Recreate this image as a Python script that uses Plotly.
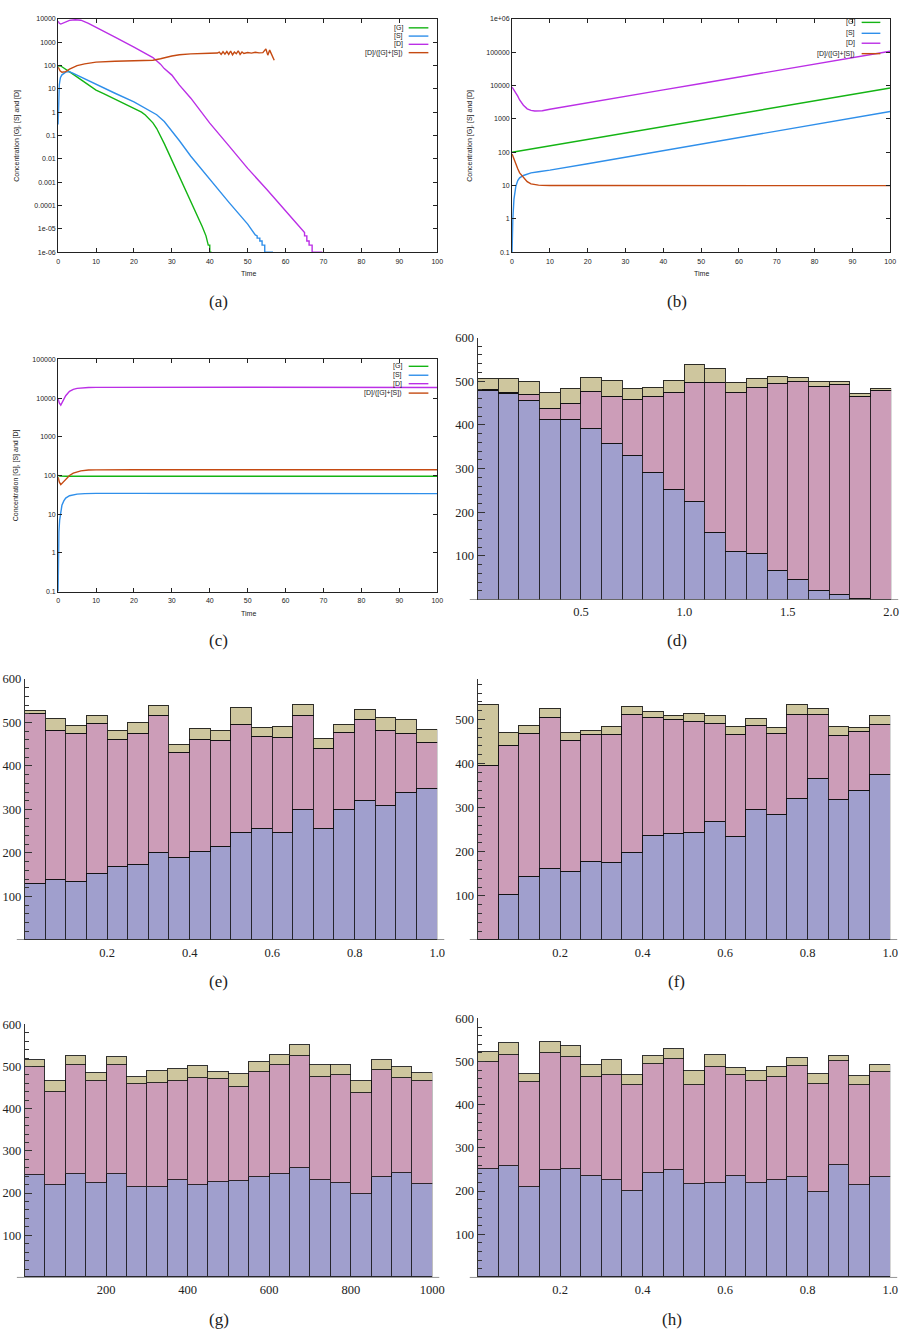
import numpy as np
import plotly.graph_objects as go

W, H = 915, 1343

# ---------------- panel (a) : time series (log scale) ----------------
a_G_t = [0, 0.5, 1, 2, 4, 6, 8, 10, 12, 14, 16, 18, 20, 22, 23, 24, 25, 26, 27, 28, 29, 30, 32, 34, 36, 38, 39, 39.5, 39.6, 40.0, 40.0, 40.3, 40.3]
a_G = [93, 100, 89, 71, 42, 25, 15, 8.9, 6.2, 4.3, 3.0, 2.1, 1.5, 1.0, 0.76, 0.52, 0.35, 0.2, 0.1, 0.045, 0.02, 0.0089, 0.0016, 3.2e-4, 6.3e-5, 1.26e-5, 5e-6, 2.5e-6, 2e-6, 2e-6, 1e-6, 1e-6, 1e-7]
a_S_t = [0, 0.1, 0.3, 0.6, 1, 2, 3, 4, 6, 8, 10, 15, 20, 24, 26, 28, 30, 32, 35, 40, 45, 50, 52, 52.5, 52.5, 53.2, 53.2, 53.8, 53.8, 54.5, 54.5, 56.5, 56.5]
a_S = [0.3, 5, 15, 30, 40, 52, 55, 46, 32, 23, 16, 6.5, 2.8, 1.26, 0.78, 0.4, 0.16, 0.06, 0.013, 0.0013, 1.4e-4, 1.6e-5, 5.5e-6, 5e-6, 4e-6, 4e-6, 3e-6, 3e-6, 2e-6, 2e-6, 1e-6, 1e-6, 1e-7]
a_D_t = [0, 0.3, 0.7, 1.5, 3, 4.5, 6, 8, 10, 15, 20, 25, 27, 28, 30, 32, 35, 40, 45, 50, 55, 60, 63, 64.5, 65, 65, 65.6, 65.6, 66.2, 66.2, 67, 67, 69.5, 69.5]
a_D = [8000, 6500, 6000, 7000, 8700, 9200, 8800, 6500, 4500, 1660, 620, 220, 115, 74, 39, 14.5, 4, 0.34, 0.037, 0.0039, 5e-4, 6e-5, 1.8e-5, 9e-6, 7e-6, 5e-6, 5e-6, 3e-6, 3e-6, 2e-6, 2e-6, 1e-6, 1e-6, 1e-7]
a_R_t = [0, 0.5, 1, 2, 3, 5, 7, 10, 15, 20, 25, 27, 28, 30, 32, 35, 40, 42, 42.5, 43, 43.5, 44, 44.5, 45, 45.5, 46, 46.5, 47, 47.5, 48, 48.5, 49, 50, 51, 52, 53, 54, 54.8, 55.3, 55.8, 57]
a_R = [86, 60, 52, 55, 70, 100, 118, 140, 152, 158, 170, 195, 215, 257, 290, 316, 335, 345, 380, 300, 390, 310, 400, 300, 420, 290, 380, 320, 430, 300, 380, 330, 360, 340, 370, 350, 360, 520, 280, 460, 170]

# ---------------- panel (b) ----------------
b_G_t = [0, 10, 20, 30, 40, 50, 60, 70, 80, 90, 100]
b_G = [100, 156, 243, 378, 590, 920, 1430, 2230, 3480, 5420, 8450]
b_S_t = [0, 0.1, 0.2, 0.5, 1, 1.5, 2, 3, 4, 5, 7, 10, 20, 30, 40, 50, 60, 70, 80, 90, 100]
b_S = [0.1, 0.4, 1.0, 3.9, 9.5, 14, 17, 20, 22, 24, 26, 29, 45, 71, 112, 176, 276, 433, 680, 1070, 1670]
b_D_t = [0, 0.5, 1, 1.5, 2, 3, 4, 5, 6, 7, 8, 10, 15, 20, 30, 40, 50, 60, 70, 80, 90, 100]
b_D = [9000, 7500, 6100, 4800, 3700, 2570, 2000, 1800, 1720, 1720, 1760, 1950, 2420, 3040, 4750, 7400, 11560, 18000, 28100, 43900, 68500, 107000]
b_R_t = [0, 0.5, 1, 1.5, 2, 3, 4, 5, 6, 7, 8, 10, 20, 40, 60, 80, 100]
b_R = [88, 60, 43, 32, 24, 17, 13, 11.2, 10.6, 10.3, 10.1, 10, 10, 10, 10, 10, 9.9]

# ---------------- panel (c) ----------------
c_G_t = [0, 0.5, 2, 10, 50, 100]
c_G = [100, 97, 96, 96, 96, 96]
c_S_t = [0, 0.1, 0.2, 0.4, 0.7, 1, 1.5, 2, 3, 4, 5, 7, 10, 20, 50, 100]
c_S = [0.1, 1.5, 3.5, 7, 12, 17, 22, 26, 30, 32, 33, 34, 34.5, 34.5, 34.5, 34]
c_D_t = [0, 0.3, 0.7, 1.2, 2, 3, 4, 5, 6, 8, 10, 20, 50, 100]
c_D = [9500, 7500, 6600, 8000, 11500, 14900, 16800, 17800, 18300, 18700, 18900, 19000, 19000, 18800]
c_R_t = [0, 0.3, 0.7, 1.2, 2, 3, 4, 5, 6, 8, 10, 20, 50, 100]
c_R = [90, 68, 58, 65, 80, 100, 115, 126, 132, 138, 140, 141, 141, 141]

SERIES_NAMES = ["[G]", "[S]", "[D]", "[D]/([G]+[S])"]
SERIES_COLORS = ["#14b414", "#2f8fea", "#bb2fe6", "#c54a12"]

# ---------------- stacked histograms (d)-(h): counts per bin ----------------
d_blue = [479, 471, 456, 412, 412, 391, 358, 330, 290, 252, 225, 153, 111, 105, 66, 45, 20, 11, 3, 0]
d_pink = [2, 4, 13, 25, 38, 86, 108, 128, 174, 221, 271, 345, 362, 381, 428, 455, 468, 481, 461, 479]
d_tan = [26, 30, 30, 36, 34, 31, 36, 25, 22, 29, 42, 30, 25, 19, 17, 8, 12, 8, 7, 4]

e_blue = [129, 139, 134, 152, 167, 172, 201, 188, 203, 214, 247, 256, 245, 300, 256, 300, 320, 308, 339, 347]
e_pink = [390, 342, 339, 345, 292, 301, 315, 243, 256, 244, 247, 211, 220, 216, 183, 177, 185, 173, 134, 107]
e_tan = [7, 26, 18, 19, 22, 26, 22, 17, 26, 22, 39, 21, 24, 24, 22, 18, 23, 30, 32, 28]

f_blue = [0, 102, 144, 162, 154, 177, 174, 197, 236, 241, 242, 267, 233, 296, 283, 320, 365, 317, 338, 374]
f_pink = [395, 338, 323, 342, 297, 288, 292, 314, 268, 259, 253, 222, 232, 190, 184, 190, 146, 145, 133, 113]
f_tan = [139, 29, 19, 19, 19, 10, 17, 18, 13, 9, 18, 19, 18, 15, 14, 22, 12, 22, 10, 22]

g_blue = [242, 218, 245, 223, 244, 213, 213, 230, 218, 226, 229, 237, 244, 258, 230, 223, 196, 238, 246, 220]
g_pink = [257, 221, 259, 242, 260, 245, 248, 235, 254, 244, 222, 249, 260, 265, 245, 256, 241, 254, 226, 245]
g_tan = [16, 25, 20, 20, 18, 16, 28, 28, 28, 16, 31, 24, 23, 28, 28, 24, 27, 23, 25, 20]

h_blue = [250, 257, 208, 247, 250, 235, 225, 199, 241, 247, 215, 218, 235, 218, 225, 231, 197, 259, 214, 231]
h_pink = [248, 258, 244, 273, 260, 229, 242, 245, 252, 257, 229, 268, 232, 236, 238, 258, 251, 241, 230, 244]
h_tan = [23, 27, 18, 24, 25, 26, 36, 25, 20, 25, 33, 29, 17, 23, 24, 18, 23, 13, 22, 17]

d_range = [0, 2.0]
e_range = [0, 1.0]
f_range = [0, 1.0]
g_range = [0, 1000]
h_range = [0, 1.0]
d_ticks = [0.5, 1.0, 1.5, 2.0]
unit_ticks = [0.2, 0.4, 0.6, 0.8, 1.0]
g_ticks = [200, 400, 600, 800, 1000]

HIST_COLORS = ["rgb(160,159,205)", "rgb(204,157,184)", "rgb(206,198,158)"]

CAPTIONS = ["(a)", "(b)", "(c)", "(d)", "(e)", "(f)", "(g)", "(h)"]


def dx(x0, x1):
    return [x0 / W, x1 / W]


def dy(top, bottom):
    return [1 - bottom / H, 1 - top / H]


def px(x):
    return x / W


def py(y):
    return 1 - y / H


fig = go.Figure()

# line panels
line_panels = [
    ("x", "y", [(a_G_t, a_G), (a_S_t, a_S), (a_D_t, a_D), (a_R_t, a_R)]),
    ("x2", "y2", [(b_G_t, b_G), (b_S_t, b_S), (b_D_t, b_D), (b_R_t, b_R)]),
    ("x3", "y3", [(c_G_t, c_G), (c_S_t, c_S), (c_D_t, c_D), (c_R_t, c_R)]),
]
for xa, ya, series in line_panels:
    for (t, v), name, col in zip(series, SERIES_NAMES, SERIES_COLORS):
        fig.add_trace(go.Scatter(x=t, y=v, mode="lines", name=name, xaxis=xa, yaxis=ya,
                                 line=dict(color=col, width=1.4), showlegend=False))

# histogram panels
hist_panels = [
    ("x4", "y4", d_range, [d_blue, d_pink, d_tan]),
    ("x5", "y5", e_range, [e_blue, e_pink, e_tan]),
    ("x6", "y6", f_range, [f_blue, f_pink, f_tan]),
    ("x7", "y7", g_range, [g_blue, g_pink, g_tan]),
    ("x8", "y8", h_range, [h_blue, h_pink, h_tan]),
]
for xa, ya, rng, stacks in hist_panels:
    n = len(stacks[0])
    bw = (rng[1] - rng[0]) / n
    centers = rng[0] + bw * (np.arange(n) + 0.5)
    for vals, col in zip(stacks, HIST_COLORS):
        fig.add_trace(go.Bar(x=centers, y=vals, width=bw, xaxis=xa, yaxis=ya,
                             marker=dict(color=col, line=dict(color="rgba(15,15,15,0.85)", width=1)),
                             showlegend=False))

GP_FONT = dict(family="Liberation Sans", size=7, color="#222")
MM_FONT = dict(family="Liberation Serif", size=12.5, color="#222")


def gp_x(dom, anchor):
    return dict(domain=dom, anchor=anchor, range=[0, 100], tickvals=list(range(0, 101, 10)),
                ticks="inside", ticklen=4, tickcolor="#222", mirror="ticks", showline=True,
                linecolor="#222", linewidth=1, showgrid=False, zeroline=False, tickfont=GP_FONT,
                ticklabelstandoff=2)


def gp_y(dom, anchor, lo, hi, texts):
    vals = [10.0 ** k for k in range(lo, hi + 1)]
    return dict(domain=dom, anchor=anchor, type="log", range=[lo, hi], tickvals=vals, ticktext=texts,
                ticks="inside", ticklen=4, tickcolor="#222", mirror="ticks", showline=True,
                linecolor="#222", linewidth=1, showgrid=False, zeroline=False, tickfont=GP_FONT)


def mm_x(dom, anchor, rng, vals, texts):
    return dict(domain=dom, anchor=anchor, range=rng, tickvals=vals, ticktext=texts, ticks="",
                showline=False, showgrid=False, zeroline=False, tickfont=MM_FONT, ticklabelstandoff=3)


def mm_y(dom, anchor, rng):
    return dict(domain=dom, anchor=anchor, range=rng, tickvals=[100, 200, 300, 400, 500, 600],
                ticks="inside", ticklen=7, tickcolor="#333", showline=True, linecolor="#333",
                linewidth=1, showgrid=False, zeroline=False, tickfont=MM_FONT,
                minor=dict(ticks="inside", ticklen=4, dtick=20, tick0=0, tickcolor="#333"))


a_texts = ["1e-06", "1e-05", "0.0001", "0.001", "0.01", "0.1", "1", "10", "100", "1000", "10000"]
b_texts = ["0.1", "1", "10", "100", "1000", "10000", "100000", "1e+06"]
c_texts = ["0.1", "1", "10", "100", "1000", "10000", "100000"]

layout = dict(
    width=W, height=H, margin=dict(l=0, r=0, t=0, b=0),
    paper_bgcolor="white", plot_bgcolor="rgba(0,0,0,0)",
    barmode="stack", bargap=0, showlegend=False,
    xaxis=gp_x(dx(57, 442), "y"), yaxis=gp_y(dy(12, 247), "x", -6, 4, a_texts),
    xaxis2=gp_x(dx(518, 902), "y2"), yaxis2=gp_y(dy(12, 247), "x2", -1, 6, b_texts),
    xaxis3=gp_x(dx(57, 442), "y3"), yaxis3=gp_y(dy(355, 589), "x3", -1, 5, c_texts),
    xaxis4=mm_x(dx(483, 903), "y4", d_range, d_ticks, ["0.5", "1.0", "1.5", "2.0"]),
    yaxis4=mm_y(dy(333, 597), "x4", [0, 600]),
    xaxis5=mm_x(dx(23, 442), "y5", e_range, unit_ticks, ["0.2", "0.4", "0.6", "0.8", "1.0"]),
    yaxis5=mm_y(dy(677, 940), "x5", [0, 600]),
    xaxis6=mm_x(dx(483, 902), "y6", f_range, unit_ticks, ["0.2", "0.4", "0.6", "0.8", "1.0"]),
    yaxis6=mm_y(dy(677, 940), "x6", [0, 592]),
    xaxis7=mm_x(dx(23, 437), "y7", g_range, g_ticks, ["200", "400", "600", "800", "1000"]),
    yaxis7=mm_y(dy(1025, 1280), "x7", [0, 600]),
    xaxis8=mm_x(dx(483, 902), "y8", h_range, unit_ticks, ["0.2", "0.4", "0.6", "0.8", "1.0"]),
    yaxis8=mm_y(dy(1019, 1280), "x8", [0, 600]),
)
fig.update_layout(**layout)

annotations = []
shapes = []

# gnuplot axis titles
for (xc, yc) in [(250, 268), (710, 268), (250, 611)]:
    annotations.append(dict(text="Time", x=px(xc), y=py(yc), xref="paper", yref="paper",
                            showarrow=False, font=GP_FONT, xanchor="center", yanchor="middle"))
for (xc, yc) in [(15, 130), (475, 130), (15, 472)]:
    annotations.append(dict(text="Concentration [G], [S] and [D]", x=px(xc), y=py(yc), xref="paper",
                            yref="paper", showarrow=False, font=GP_FONT, textangle=-90,
                            xanchor="center", yanchor="middle"))

# gnuplot keys (text right of which a line sample is drawn)
keys = [
    (409, 413, 433, [21, 29.3, 37.6, 46]),
    (868, 873, 892, [15.5, 26.5, 36.5, 47]),
    (408, 413, 433, [362, 371, 379.5, 389]),
]
for tx, l0, l1, rows in keys:
    for name, col, yr in zip(SERIES_NAMES, SERIES_COLORS, rows):
        annotations.append(dict(text=name, x=px(tx), y=py(yr), xref="paper", yref="paper",
                                showarrow=False, font=GP_FONT, xanchor="right", yanchor="middle"))
        shapes.append(dict(type="line", xref="paper", yref="paper", x0=px(l0), x1=px(l1),
                           y0=py(yr), y1=py(yr), line=dict(color=col, width=1.4)))

# Mathematica-style horizontal axes (extend slightly past the plot)
for xa, ya in [("x4", "y4"), ("x5", "y5"), ("x6", "y6"), ("x7", "y7"), ("x8", "y8")]:
    shapes.append(dict(type="line", xref=xa + " domain", yref=ya, x0=-0.019, x1=1.017, y0=0, y1=0,
                       line=dict(color="#333", width=1)))

# captions
cap_pos = [(220, 297), (685, 297), (220, 638), (685, 638), (220, 982), (685, 982), (220, 1322), (680, 1322)]
for cap, (xc, yc) in zip(CAPTIONS, cap_pos):
    annotations.append(dict(text=cap, x=px(xc), y=py(yc), xref="paper", yref="paper", showarrow=False,
                            font=dict(family="Liberation Serif", size=17, color="#222"),
                            xanchor="center", yanchor="middle"))

fig.update_layout(annotations=annotations, shapes=shapes)
fig.write_html("out.html")
